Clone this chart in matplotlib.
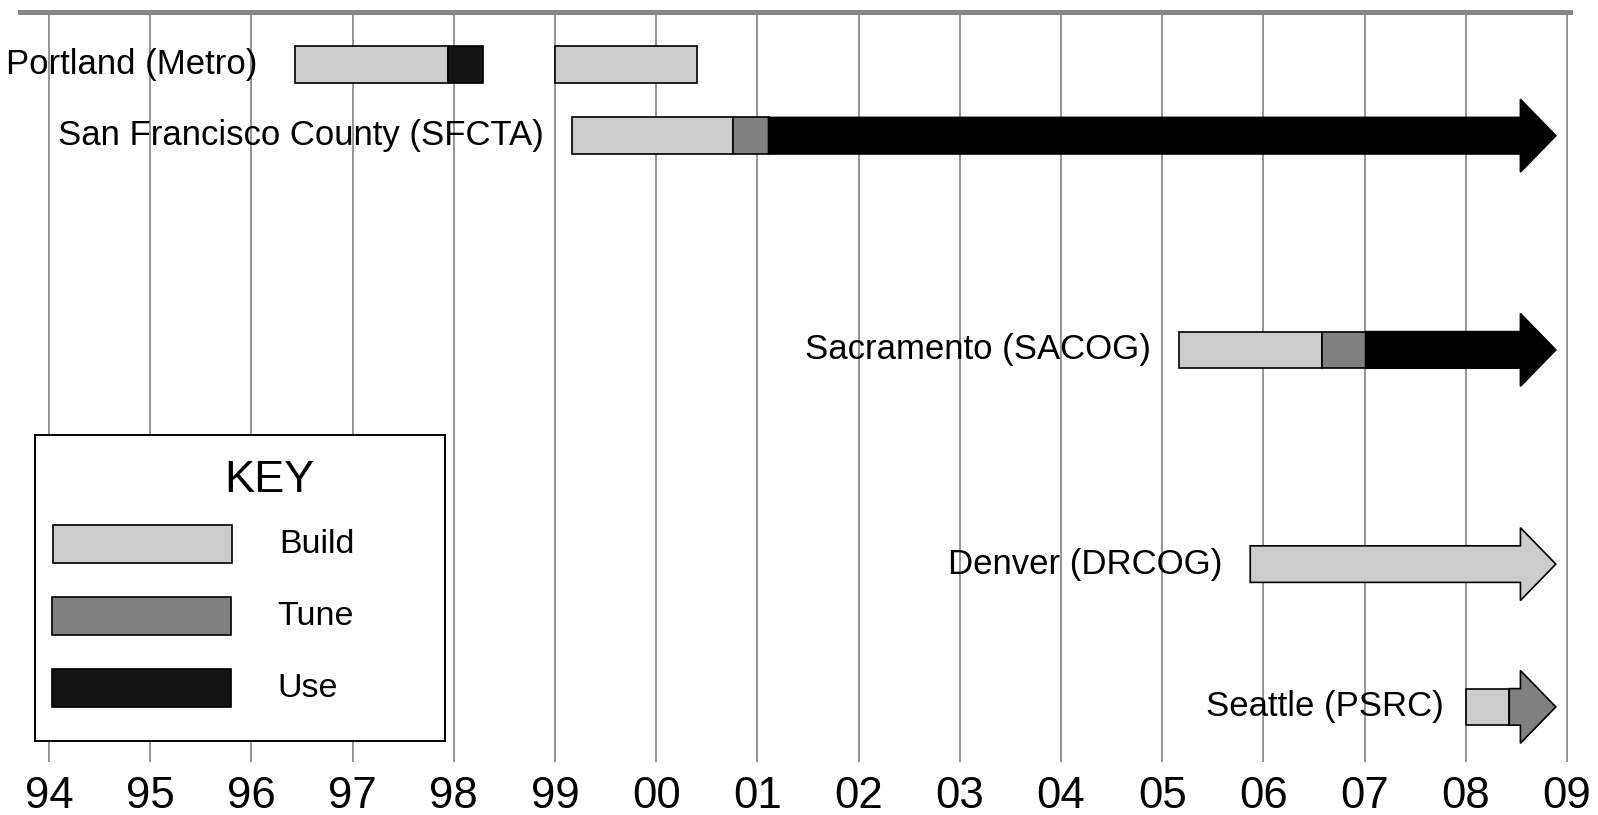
import matplotlib
matplotlib.use("Agg")
import matplotlib.pyplot as plt
from matplotlib.patches import Polygon, Rectangle

plt.rcParams['font.family'] = ['Liberation Sans', 'DejaVu Sans']

# -- datos ---------------------------------------------------------------
agencies = ['Portland (Metro)', 'San Francisco County (SFCTA)',
            'Sacramento (SACOG)', 'Denver (DRCOG)', 'Seattle (PSRC)']
years = list(range(1994, 2010))
year_labels = [f'{y % 100:02d}' for y in years]

# segmentos: agencia, fase, inicio, fin, continua (flecha)
seg_agency = [0, 0, 0, 1, 1, 1, 2, 2, 2, 3, 4, 4]
seg_phase = ['Build', 'Use', 'Build',
             'Build', 'Tune', 'Use',
             'Build', 'Tune', 'Use',
             'Build',
             'Build', 'Tune']
seg_start = [1996.43, 1997.94, 1999.00,
             1999.17, 2000.76, 2001.11,
             2005.17, 2006.58, 2007.01,
             2005.87,
             2008.00, 2008.43]
seg_end = [1997.94, 1998.29, 2000.40,
           2000.76, 2001.11, 2008.89,
           2006.58, 2007.01, 2008.89,
           2008.89,
           2008.43, 2008.89]
seg_ongoing = [False, False, False,
               False, False, True,
               False, False, True,
               True,
               False, True]

phases = ['Build', 'Tune', 'Use']
phase_color = {'Build': '#cccccc', 'Tune': '#808080', 'Use': '#141414'}
arrow_color = {'Build': '#cccccc', 'Tune': '#808080', 'Use': '#000000'}

# -- estilo / layout -----------------------------------------------------
row_pos = [0, 1, 4, 7, 9]           # filas (cada fila ~71 px)
label_gap = [0.37, 0.28, 0.28, 0.28, 0.22]
bar_h = 0.256                       # media altura de la barra (filas)
head_h = 0.51                       # media altura de la punta
head_len = 0.35                     # largo de la punta (años)

W, H = 1598, 815
fig = plt.figure(figsize=(W / 100, H / 100), dpi=100)
ax = fig.add_axes([20.4 / W, 1 - 762 / H, (1570 - 20.4) / W, (762 - 11.5) / H])
ax.set_xlim(1993.717, 2009.03)
y_bot, y_top = (762 - 64.3) / 71.4, (11.5 - 64.3) / 71.4
ax.set_ylim(y_bot, y_top)

ax.vlines(years, y_bot, y_top, color='#8c8c8c', lw=1.3, zorder=1)
for s in ['left', 'right', 'bottom']:
    ax.spines[s].set_visible(False)
ax.spines['top'].set_color('#888888')
ax.spines['top'].set_linewidth(3.6)
ax.set_yticks([])
ax.set_xticks(years)
ax.set_xticklabels(year_labels, fontsize=31.5)
ax.tick_params(axis='x', length=0, pad=10)

for a, ph, x0, x1, ong in zip(seg_agency, seg_phase, seg_start, seg_end, seg_ongoing):
    y = row_pos[a]
    if ong:
        xh = x1 - head_len
        pts = [(x0, y - bar_h), (xh, y - bar_h), (xh, y - head_h), (x1, y),
               (xh, y + head_h), (xh, y + bar_h), (x0, y + bar_h)]
        fc = arrow_color[ph]
    else:
        pts = [(x0, y - bar_h), (x1, y - bar_h), (x1, y + bar_h), (x0, y + bar_h)]
        fc = phase_color[ph]
    ax.add_patch(Polygon(pts, closed=True, facecolor=fc,
                         edgecolor='black', lw=1.2, zorder=3))

for i, name in enumerate(agencies):
    first = min(s for a, s in zip(seg_agency, seg_start) if a == i)
    ax.text(first - label_gap[i], row_pos[i], name, ha='right', va='center',
            fontsize=25, zorder=4)

# -- leyenda (KEY) -------------------------------------------------------
kx0, ky0, kx1, ky1 = 35.3, 435.3, 445, 741
kax = fig.add_axes([kx0 / W, 1 - ky1 / H, (kx1 - kx0) / W, (ky1 - ky0) / H], zorder=5)
kax.set_xlim(0, kx1 - kx0)
kax.set_ylim(ky1 - ky0, 0)
kax.set_xticks([]); kax.set_yticks([])
for s in kax.spines.values():
    s.set_linewidth(1.4)
kax.text(233.7, 45, 'KEY', ha='center', va='center', fontsize=32.5)
key_rect_x = [18, 16.4, 16.4]
key_rect_y = [89.7, 162, 234]
for ph, rx, ry in zip(phases, key_rect_x, key_rect_y):
    kax.add_patch(Rectangle((rx, ry), 179, 37.5, facecolor=phase_color[ph],
                            edgecolor='black', lw=1.2))
    kax.text(rx + 226, ry + 19.5, ph, ha='left', va='center', fontsize=24.5)

fig.savefig('out.png', dpi=100)
